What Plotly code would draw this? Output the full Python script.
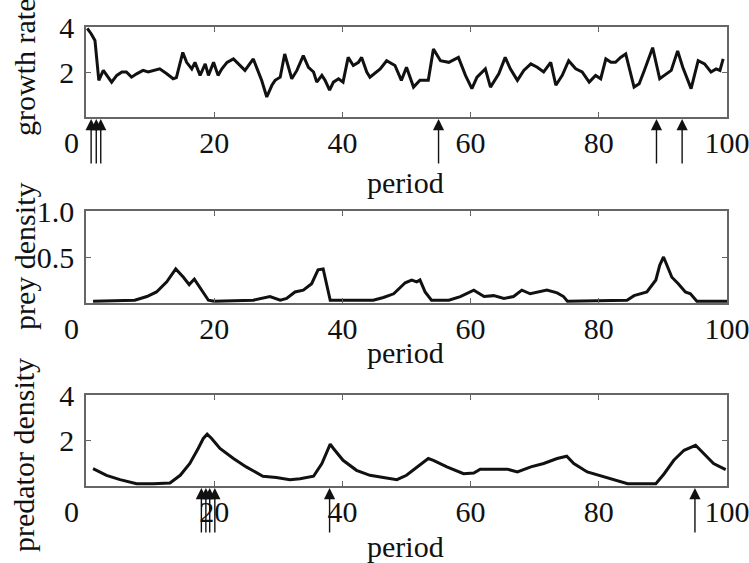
import plotly.graph_objects as go

# growth rate series
growth_period = [0.2, 0.8, 1.4, 2.0, 2.7, 3.2, 4.0, 4.8, 5.6, 6.3, 7.1, 7.9, 8.9, 9.7, 10.5,
                 11.5, 12.6, 13.6, 14.1, 15.1, 15.7, 16.5, 17.0, 17.8, 18.6, 19.1, 19.9, 20.6,
                 21.2, 22.0, 23.0, 24.0, 24.8, 26.1, 26.6, 27.4, 28.2, 29.0, 29.5, 30.3, 31.0,
                 31.6, 32.1, 32.9, 33.9, 34.7, 35.5, 36.0, 36.8, 37.3, 38.0, 38.6, 39.4, 40.1,
                 40.9, 41.7, 42.5, 43.0, 43.8, 44.3, 45.9, 46.9, 48.2, 49.2, 50.0, 51.1, 52.1,
                 53.4, 54.2, 55.3, 56.6, 58.1, 59.2, 60.2, 61.0, 62.3, 63.1, 64.4, 65.4, 66.2,
                 67.3, 68.3, 69.4, 70.4, 71.4, 72.5, 73.3, 74.3, 75.3, 76.4, 77.4, 78.5, 79.5,
                 80.3, 81.1, 81.9, 82.6, 83.4, 84.2, 85.5, 86.3, 87.1, 88.4, 89.5, 90.2, 91.3,
                 92.3, 93.1, 94.4, 95.5, 96.5, 97.5, 98.3, 98.9, 99.4]
growth_rate = [3.94, 3.7, 3.4, 1.63, 2.07, 1.85, 1.55, 1.85, 2.0, 2.0, 1.77, 1.92, 2.07, 2.0, 2.07,
               2.14, 1.92, 1.7, 1.75, 2.87, 2.43, 2.14, 2.43, 1.85, 2.36, 1.85, 2.43, 1.85,
               2.14, 2.43, 2.58, 2.29, 2.07, 2.58, 2.21, 1.63, 0.89, 1.41, 1.63, 1.77, 2.8,
               2.21, 1.7, 2.07, 2.73, 2.21, 2.0, 1.55, 1.85, 1.63, 1.19, 1.55, 1.7, 1.55,
               2.65, 2.29, 2.43, 2.65, 2.0, 1.77, 2.14, 2.5, 2.29, 1.63, 2.21, 1.33, 1.63,
               1.63, 3.02, 2.5, 2.43, 2.65, 1.85, 1.26, 1.77, 2.14, 1.33, 1.92, 2.65, 2.14,
               1.63, 2.07, 2.36, 2.21, 2.0, 2.43, 1.41, 1.85, 2.5, 2.14, 2.0, 1.55, 1.85,
               1.7, 2.58, 2.43, 2.43, 2.65, 2.8, 1.33, 1.48, 2.07, 3.08, 1.7, 1.85, 2.07,
               2.94, 2.21, 1.26, 2.5, 2.36, 2.0, 2.14, 2.07, 2.58]

# prey density series
prey_period = [1.1, 7.6, 9.5, 11.0, 12.6, 14.0, 15.2, 16.1, 16.9, 17.8, 19.1, 20.0, 26.1, 28.7,
               30.3, 31.3, 32.6, 33.9, 35.2, 36.2, 37.0, 38.1, 44.8, 46.4, 48.0, 49.8, 50.8,
               51.6, 52.1, 52.9, 53.9, 56.6, 58.4, 60.5, 62.1, 63.6, 65.2, 66.7, 68.0, 69.3,
               70.6, 71.9, 73.5, 74.5, 75.1, 84.4, 85.5, 87.5, 88.9, 89.5, 90.1, 90.6, 91.4,
               92.4, 93.5, 94.3, 95.3, 100.0]
prey_density = [0.02, 0.03, 0.07, 0.12, 0.23, 0.37, 0.28, 0.2, 0.26, 0.16, 0.03, 0.02, 0.03, 0.07,
                0.03, 0.05, 0.12, 0.14, 0.21, 0.36, 0.37, 0.03, 0.03, 0.06, 0.1, 0.22, 0.25,
                0.23, 0.25, 0.12, 0.03, 0.03, 0.07, 0.14, 0.07, 0.08, 0.05, 0.07, 0.14, 0.1,
                0.12, 0.14, 0.11, 0.07, 0.02, 0.03, 0.08, 0.12, 0.25, 0.41, 0.5, 0.41, 0.28,
                0.21, 0.12, 0.1, 0.02, 0.02]

# predator density series
pred_period = [1.1, 3.2, 5.3, 7.9, 10.5, 13.1, 14.7, 16.2, 17.5, 18.3, 18.9, 19.6, 20.9, 23.0,
               25.0, 27.6, 29.7, 31.8, 33.4, 35.5, 36.8, 38.1, 38.6, 40.1, 42.2, 44.3, 46.4,
               48.5, 50.0, 52.1, 53.4, 54.2, 56.3, 58.9, 60.5, 61.5, 64.1, 65.7, 67.3, 69.4,
               71.4, 73.5, 75.0, 76.1, 78.2, 80.8, 82.9, 84.5, 88.9, 90.2, 91.7, 93.3, 95.1,
               96.4, 97.9, 99.8]
pred_density = [0.76, 0.47, 0.28, 0.1, 0.1, 0.13, 0.47, 0.99, 1.65, 2.09, 2.28, 2.09, 1.65, 1.21,
                0.84, 0.43, 0.37, 0.28, 0.32, 0.43, 0.99, 1.84, 1.65, 1.13, 0.69, 0.47, 0.37,
                0.28, 0.47, 0.91, 1.21, 1.13, 0.84, 0.54, 0.57, 0.74, 0.74, 0.74, 0.62, 0.84,
                0.99, 1.21, 1.31, 0.99, 0.62, 0.4, 0.22, 0.1, 0.1, 0.54, 1.13, 1.57, 1.79,
                1.43, 0.99, 0.72]

# periods marked with arrows
growth_events = [0.8, 1.6, 2.3, 55.0, 89.0, 93.0]
pred_events = [18.0, 18.7, 19.3, 20.1, 38.0, 95.0]

x_ticks = [20, 40, 60, 80, 100]
y_ticks = [[2, 4], [0.5, 1.0], [2, 4]]
y_ticktext = [['2', '4'], ['0.5', '1.0'], ['2', '4']]
y_ranges = [[0, 4], [0, 1], [0, 4]]
y_titles = ['growth rate', 'prey density', 'predator density']

W, H = 749, 563
FONT = 'Liberation Serif'
FS = 30
# panel tops/bottoms in pixels
panels = [(27, 117), (211, 303), (395, 486)]
title_centers = [68, 257, 455]
period_centers = [182, 352, 546]

fig = go.Figure()
series = [(growth_period, growth_rate), (prey_period, prey_density), (pred_period, pred_density)]
for i, (px, py) in enumerate(series):
    n = '' if i == 0 else str(i + 1)
    fig.add_trace(go.Scatter(x=px, y=py, mode='lines', xaxis='x' + n, yaxis='y' + n,
                             line=dict(color='#111', width=3), showlegend=False))

axis_common = dict(showline=True, mirror='ticks', linecolor='#666', linewidth=1.5,
                   ticks='inside', ticklen=5, tickcolor='#666', showgrid=False,
                   zeroline=False, automargin=False, ticklabeloverflow='allow',
                   tickfont=dict(family=FONT, size=FS, color='#111'))
layout = {}
annotations = []
for i, (top, bot) in enumerate(panels):
    n = '' if i == 0 else str(i + 1)
    layout['xaxis' + n] = dict(axis_common, domain=[86 / W, 727 / W], range=[0, 100],
                               tickvals=x_ticks, ticklabelstandoff=-2,
                               anchor='y' + n)
    layout['yaxis' + n] = dict(axis_common, domain=[1 - bot / H, 1 - top / H],
                               range=y_ranges[i], tickvals=y_ticks[i],
                               ticktext=y_ticktext[i], ticklabelstandoff=4,
                               anchor='x' + n)
    annotations.append(dict(text=y_titles[i], xref='paper', yref='paper', x=24 / W,
                            y=1 - title_centers[i] / H, textangle=-90, showarrow=False,
                            xanchor='center', yanchor='middle',
                            font=dict(family=FONT, size=FS, color='#111')))
    annotations.append(dict(text='period', xref='paper', yref='paper', x=406 / W,
                            y=1 - period_centers[i] / H, showarrow=False,
                            xanchor='center', yanchor='middle',
                            font=dict(family=FONT, size=FS, color='#111')))
    annotations.append(dict(text='0', xref='paper', yref='paper', x=71 / W,
                            y=1 - (bot + 25) / H, showarrow=False,
                            xanchor='center', yanchor='middle',
                            font=dict(family=FONT, size=FS, color='#111')))

for xv in growth_events:
    annotations.append(dict(x=xv, y=0, xref='x', yref='y', text='', showarrow=True,
                            ax=0, ay=48, arrowhead=2, arrowsize=1.6, arrowwidth=1.4,
                            arrowcolor='#111', standoff=2))
for xv in pred_events:
    annotations.append(dict(x=xv, y=0, xref='x3', yref='y3', text='', showarrow=True,
                            ax=0, ay=48, arrowhead=2, arrowsize=1.6, arrowwidth=1.4,
                            arrowcolor='#111', standoff=2))

fig.update_layout(width=W, height=H, margin=dict(l=0, r=0, t=0, b=0),
                  paper_bgcolor='white', plot_bgcolor='white',
                  annotations=annotations, **layout)

# page body has a default margin; remove it so the figure fills the window
fig.write_html("out.html", config={'displayModeBar': False},
               post_script="document.body.style.margin='0';")
